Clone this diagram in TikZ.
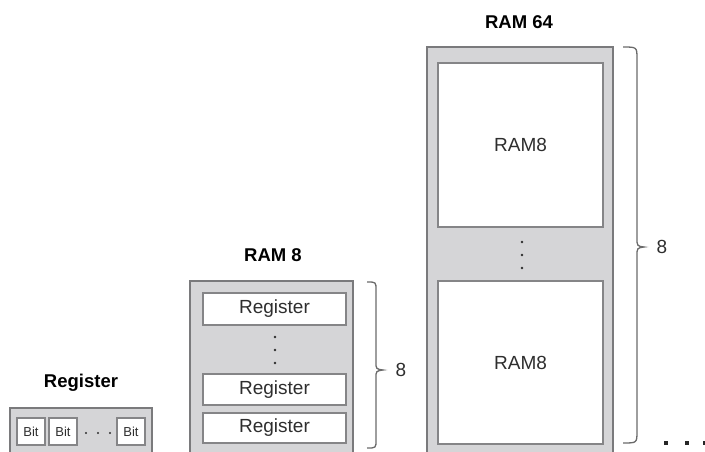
\documentclass[tikz,border=0pt]{standalone}
\usepackage{fontspec}
\setmainfont{Liberation Sans}
\definecolor{panel}{HTML}{D5D5D7}
\definecolor{edge}{HTML}{7A7A7C}
\definecolor{edgein}{HTML}{858587}
\definecolor{ink}{HTML}{2E2E2E}
\definecolor{bracec}{HTML}{6A6A6A}
\tikzset{
  outerbox/.style={draw=edge, fill=panel, line width=1.6pt, inner sep=0pt},
  innerbox/.style={draw=edgein, fill=white, line width=1.4pt, inner sep=0pt, text=ink, font=\fontsize{19}{19}\selectfont},
  bitbox/.style={draw=edgein, fill=white, line width=1.3pt, inner sep=0pt, text=ink, font=\fontsize{13}{13}\selectfont},
  titletext/.style={font=\bfseries\fontsize{18.5}{19}\selectfont, text=black},
  bracelabel/.style={font=\fontsize{19}{19}\selectfont, text=ink},
  bracepath/.style={draw=bracec, line width=1.3pt},
  vdot/.style={fill=ink, circle, inner sep=0pt, minimum size=2.6pt},
  bigdot/.style={fill=black!85, inner sep=0pt, minimum size=4.2pt}
}
\begin{document}
\begin{tikzpicture}[x=1pt,y=-1pt]
\useasboundingbox (0,0) rectangle (705,451);
\clip (0,0) rectangle (705,451);

% ---------- Register ----------
\node[titletext] (regtitle) at (81,383) {Register};
\node[outerbox, minimum width=142pt, minimum height=62pt] (reg) at (81,439) {};
\node[bitbox, minimum width=28pt, minimum height=27pt] (bit1) at (31,431.5) {Bit};
\node[bitbox, minimum width=28pt, minimum height=27pt] (bit2) at (63,431.5) {Bit};
\node[bitbox, minimum width=28pt, minimum height=27pt] (bit3) at (131,431.5) {Bit};
\node[vdot, minimum size=2.4pt] (bd1) at (86,433) {};
\node[vdot, minimum size=2.4pt] (bd2) at (98,433) {};
\node[vdot, minimum size=2.4pt] (bd3) at (110,433) {};

% ---------- RAM 8 ----------
\node[titletext] (r8title) at (273,255) {RAM 8};
\node[outerbox, minimum width=163pt, minimum height=189pt] (ram8) at (271.5,375.5) {};
\node[innerbox, minimum width=143pt, minimum height=32pt] (regA) at (274.5,309) {Register};
\node[innerbox, minimum width=143pt, minimum height=31pt] (regB) at (274.5,389.5) {Register};
\node[innerbox, minimum width=143pt, minimum height=30pt] (regC) at (274.5,428) {Register};
\node[vdot] (rd1) at (275,337) {};
\node[vdot] (rd2) at (275,350) {};
\node[vdot] (rd3) at (275,363) {};
% brace
\draw[bracepath] (367,282) .. controls (376,282) .. (376,290)
  -- (376,362) .. controls (376,369) .. (383,370)
  .. controls (376,371) .. (376,378)
  -- (376,440) .. controls (376,448) .. (367,448);
\node[bracelabel] (eight1) at (401,370) {8};

% ---------- RAM 64 ----------
\node[titletext] (r64title) at (519,22) {RAM 64};
\node[outerbox, minimum width=186pt, minimum height=423pt] (ram64) at (520,258.5) {};
\node[innerbox, minimum width=165pt, minimum height=164pt] (r8A) at (520.5,145) {RAM8};
\node[innerbox, minimum width=165pt, minimum height=163pt] (r8B) at (520.5,362.5) {RAM8};
\node[vdot] (md1) at (522,242) {};
\node[vdot] (md2) at (522,255) {};
\node[vdot] (md3) at (522,268) {};
% brace
\draw[bracepath] (623,47) .. controls (637,47) .. (637,59)
  -- (637,238) .. controls (637,246) .. (644,247)
  .. controls (637,248) .. (637,256)
  -- (637,431) .. controls (637,443) .. (623,443);
\node[bracelabel] (eight2) at (662,247) {8};

% ---------- trailing dots ----------
\node[bigdot] (td1) at (666,443) {};
\node[bigdot] (td2) at (687,443) {};
\node[bigdot] (td3) at (705,443) {};
\end{tikzpicture}
\end{document}
